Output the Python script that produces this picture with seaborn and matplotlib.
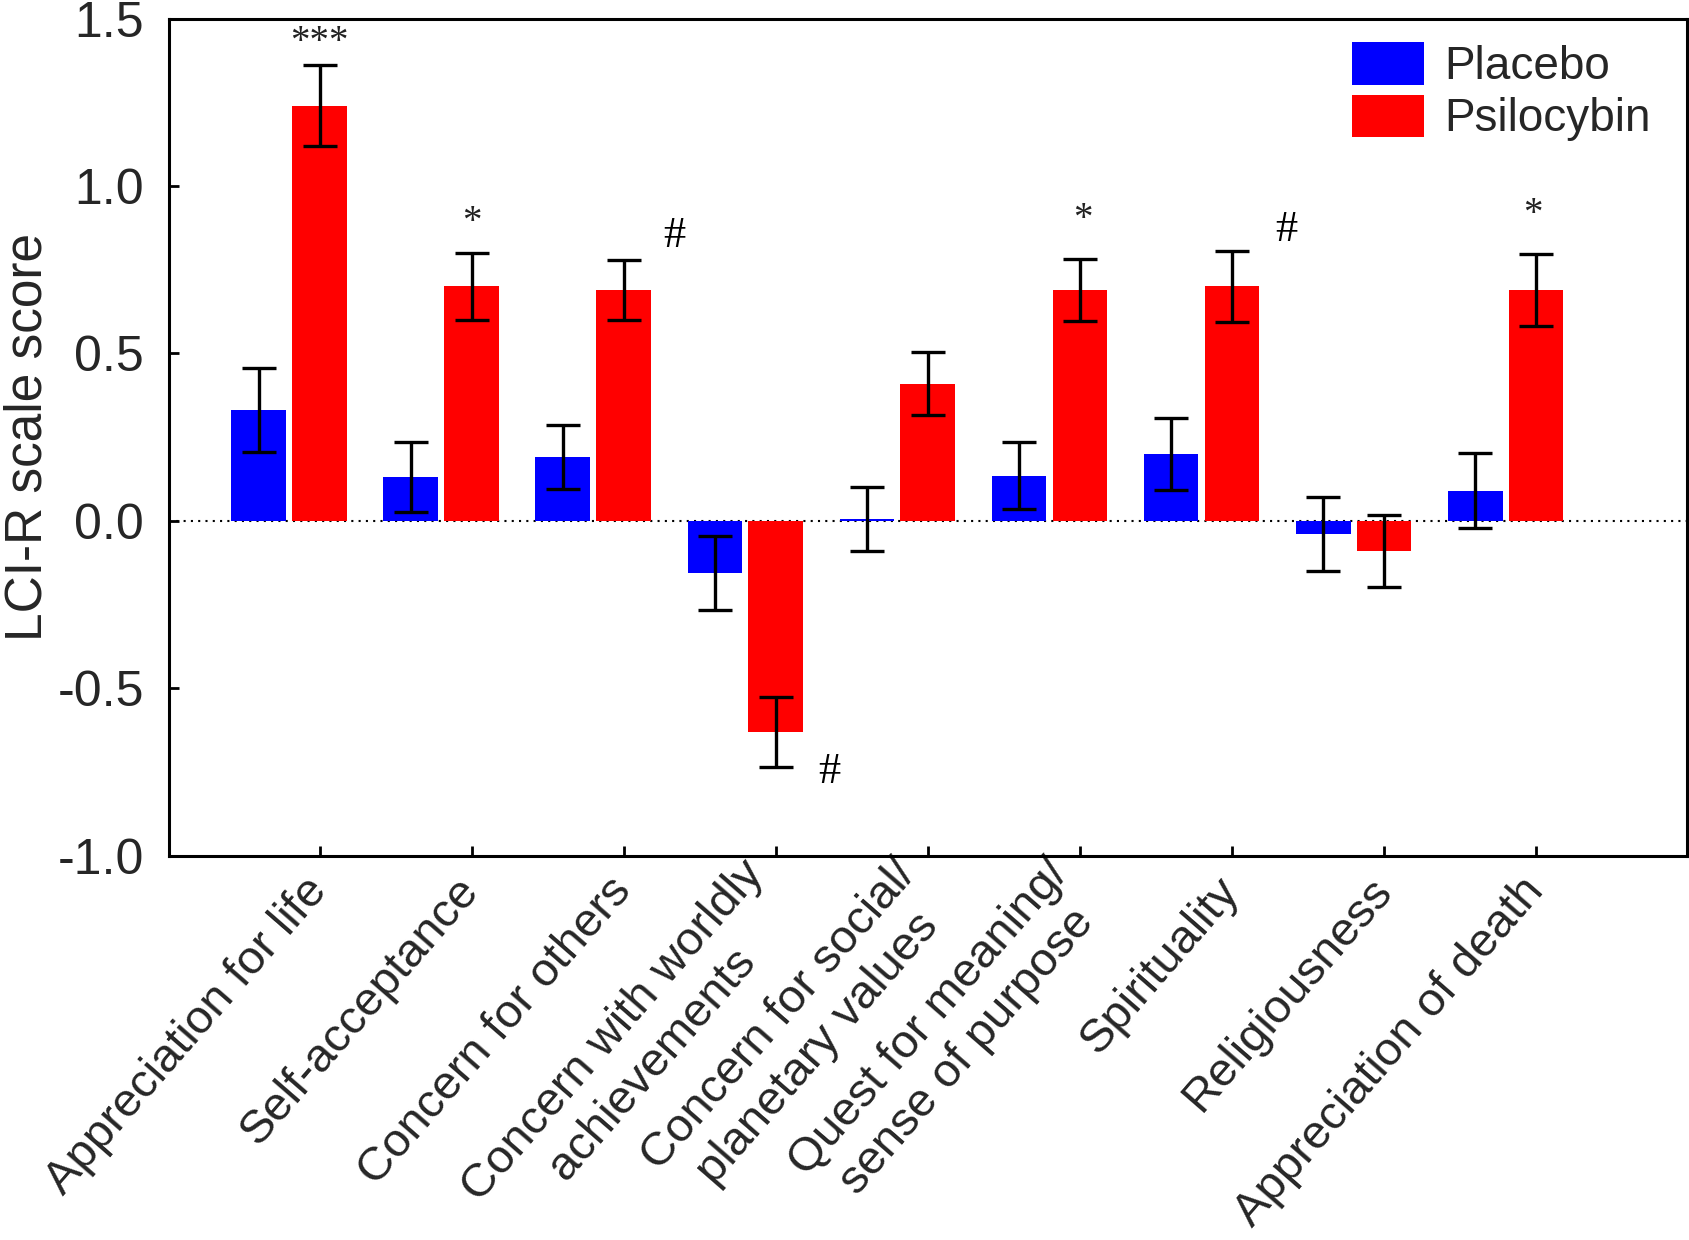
import numpy as np
import pandas as pd
import matplotlib
matplotlib.use("Agg")
import matplotlib.pyplot as plt
from matplotlib.transforms import ScaledTranslation
from matplotlib.patches import Patch
import seaborn as sns

# ---------------- data ----------------
categories = ["Appreciation for life", "Self-acceptance", "Concern for others",
              "Concern with worldly\nachievements", "Concern for social/\nplanetary values",
              "Quest for meaning/\nsense of purpose", "Spirituality", "Religiousness",
              "Appreciation of death"]
groups = ["Placebo", "Psilocybin"]
placebo = [0.33, 0.13, 0.19, -0.155, 0.005, 0.135, 0.20, -0.04, 0.09]
placebo_err = [0.125, 0.105, 0.095, 0.11, 0.095, 0.10, 0.107, 0.11, 0.112]
psilocybin = [1.24, 0.70, 0.69, -0.63, 0.41, 0.69, 0.70, -0.09, 0.69]
psilocybin_err = [0.12, 0.10, 0.09, 0.105, 0.095, 0.093, 0.105, 0.108, 0.107]

# significance marks: text, category index, offset from category tick, y value
sig_text = ["***", "*", "#", "#", "*", "#", "*"]
sig_cat = [0, 1, 2, 3, 5, 6, 8]
sig_dx = [0.0, 0.0, 0.33, 0.355, 0.02, 0.355, -0.02]
sig_y = [1.43, 0.89, 0.85, -0.75, 0.90, 0.87, 0.915]

yticks = [-1.0, -0.5, 0.0, 0.5, 1.0, 1.5]
ylabel = "LCI-R scale score"

colors = {"Placebo": "#0000FF", "Psilocybin": "#FF0000"}

df = pd.DataFrame({
    "category": categories * 2,
    "group": ["Placebo"] * len(categories) + ["Psilocybin"] * len(categories),
    "value": placebo + psilocybin,
})
errs = {"Placebo": placebo_err, "Psilocybin": psilocybin_err}
means = {"Placebo": placebo, "Psilocybin": psilocybin}

# ---------------- style ----------------
sns.set_theme(style="white")
plt.rcParams["font.family"] = ["Liberation Sans", "DejaVu Sans"]

fig = plt.figure(figsize=(16.9, 12.4), dpi=100)
ax = fig.add_axes([0.100, 0.310, 0.898, 0.675])

sns.barplot(data=df, x="category", y="value", hue="group", order=categories,
            hue_order=groups, palette=colors, width=0.8, gap=0.1,
            errorbar=None, saturation=1, ax=ax, legend=False, zorder=2)

for cont, g in zip(ax.containers, groups):
    xs = [p.get_x() + p.get_width() / 2 for p in cont.patches]
    ax.errorbar(xs, means[g], yerr=errs[g], fmt="none", ecolor="black",
                elinewidth=2.4, capsize=12, capthick=2.4, zorder=3)
    for p in cont.patches:
        p.set_edgecolor("none")

ax.axhline(0, color="black", ls=(0, (1, 2.5)), lw=1.5, zorder=1)

for t, c, dx, y in zip(sig_text, sig_cat, sig_dx, sig_y):
    if t == "#":
        ax.text(c + 0.2 + dx, y, t, ha="center", va="center", fontsize=32,
                family=["Liberation Serif", "DejaVu Serif"], color="black")
    else:
        ax.text(c + 0.2 + dx, y, t, ha="center", va="center", fontsize=28,
                family=["Liberation Serif", "DejaVu Serif"], color="#222222")

ax.set_xlim(-0.79, 9.19)
ax.set_ylim(-1.0, 1.5)
ax.set_yticks(yticks)
ax.set_yticklabels([f"{v:.1f}" for v in yticks], fontsize=36)
ax.set_xticks(np.arange(len(categories)) + 0.2)
ax.set_xticklabels(categories, fontsize=34, rotation=49, ha="right",
                   rotation_mode="anchor", va="center", multialignment="center")
off = ScaledTranslation(0.22, 0, fig.dpi_scale_trans)
for lab in ax.get_xticklabels():
    lab.set_transform(lab.get_transform() + off)

ax.tick_params(axis="both", direction="in", length=7, width=2, color="black",
               bottom=True, left=True, top=False, right=False)
ax.tick_params(axis="y", pad=18)
ax.tick_params(axis="x", pad=20)
for s in ax.spines.values():
    s.set_visible(True)
    s.set_color("black")
    s.set_linewidth(2.2)

ax.set_xlabel("")
ax.set_ylabel(ylabel, fontsize=37)
ax.yaxis.set_label_coords(-0.077, 0.5)

handles = [Patch(facecolor=colors[g], edgecolor="none") for g in groups]
fig.legend(handles, groups, loc="upper left", bbox_to_anchor=(0.800, 0.966),
           frameon=False, fontsize=33, handlelength=1.57, handleheight=1.05,
           handletextpad=0.45, labelspacing=0.12, borderpad=0, borderaxespad=0)

fig.savefig("out.png", dpi=100, facecolor="white")
